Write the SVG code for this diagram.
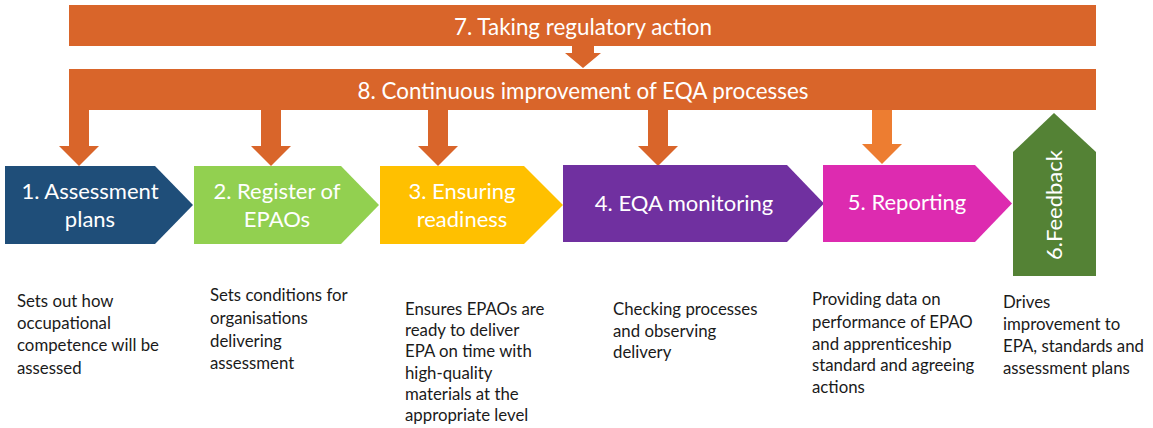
<svg xmlns="http://www.w3.org/2000/svg" width="1153" height="428" viewBox="0 0 1153 428">
<style>
.bar{fill:#D9652A}
.arr{fill:#D9652A}
.arr5{fill:#ED7D31}
.lbl{font-family:Lato,"Open Sans",sans-serif;font-size:22px;fill:#fff;text-anchor:middle}
.top{font-family:Lato,"Open Sans",sans-serif;font-size:22.4px;fill:#fff;text-anchor:middle}
.desc{font-family:Lato,"Open Sans",sans-serif;font-size:16.8px;fill:#1a1a1a}
</style>
<rect width="1153" height="428" fill="#fff"/>
<g id="bar7"><rect class="bar" x="69" y="5" width="1027" height="41"/><text class="top" x="583" y="35">7. Taking regulatory action</text></g>
<g id="bar8"><rect class="bar" x="69" y="69" width="1027" height="41"/><text class="top" x="583" y="99">8. Continuous improvement of EQA processes</text></g>
<g id="connectors">
<path class="arr" d="M572,46V53H565L583,68L601,53H594V46Z"/>
<path class="arr" d="M69,110V146H59L79,166L99,146H89V110Z"/>
<path class="arr" d="M261,110V146H251L271,166L291,146H281V110Z"/>
<path class="arr" d="M428,110V146H418L438,166L458,146H448V110Z"/>
<path class="arr" d="M648,110V146H638L658,166L678,146H668V110Z"/>
<path class="arr5" d="M872,110V144H862L882,164L902,144H892V110Z"/>
</g>
<g id="step1"><path d="M5,166H155L193,205L155,244H5Z" fill="#1F4E79"/><text class="lbl" x="90" y="199">1. Assessment</text><text class="lbl" x="90" y="227">plans</text></g>
<g id="step2"><path d="M194,166H341L379,205L341,244H194Z" fill="#92D050"/><text class="lbl" x="277" y="199">2. Register of</text><text class="lbl" x="277" y="227">EPAOs</text></g>
<g id="step3"><path d="M380,166H524L563,205L524,244H380Z" fill="#FFC000"/><text class="lbl" x="462" y="199">3. Ensuring</text><text class="lbl" x="462" y="227">readiness</text></g>
<g id="step4"><path d="M563,165H787L824,203.5L787,242H563Z" fill="#7030A0"/><text class="lbl" x="684" y="211">4. EQA monitoring</text></g>
<g id="step5"><path d="M823,165H975L1012,203.5L975,242H823Z" fill="#DD2BB0"/><text class="lbl" x="907" y="210">5. Reporting</text></g>
<g id="step6"><path d="M1013,276V152L1054,113L1096,152V276Z" fill="#548235"/><text class="lbl" transform="translate(1062,205) rotate(-90)">6.Feedback</text></g>
<g id="desc1"><text class="desc" x="17" y="307">Sets out how</text><text class="desc" x="17" y="329">occupational</text><text class="desc" x="17" y="351">competence will be</text><text class="desc" x="17" y="374">assessed</text></g>
<g id="desc2"><text class="desc" x="210" y="301">Sets conditions for</text><text class="desc" x="210" y="324">organisations</text><text class="desc" x="210" y="347">delivering</text><text class="desc" x="210" y="369">assessment</text></g>
<g id="desc3"><text class="desc" x="405" y="315">Ensures EPAOs are</text><text class="desc" x="405" y="336">ready to deliver</text><text class="desc" x="405" y="357">EPA on time with</text><text class="desc" x="405" y="379">high-quality</text><text class="desc" x="405" y="400">materials at the</text><text class="desc" x="405" y="421">appropriate level</text></g>
<g id="desc4"><text class="desc" x="613" y="315">Checking processes</text><text class="desc" x="613" y="337">and observing</text><text class="desc" x="613" y="358">delivery</text></g>
<g id="desc5"><text class="desc" x="812" y="305">Providing data on</text><text class="desc" x="812" y="328">performance of EPAO</text><text class="desc" x="812" y="350">and apprenticeship</text><text class="desc" x="812" y="371">standard and agreeing</text><text class="desc" x="812" y="393">actions</text></g>
<g id="desc6"><text class="desc" x="1003" y="308">Drives</text><text class="desc" x="1003" y="330">improvement to</text><text class="desc" x="1003" y="352">EPA, standards and</text><text class="desc" x="1003" y="374">assessment plans</text></g>
</svg>
